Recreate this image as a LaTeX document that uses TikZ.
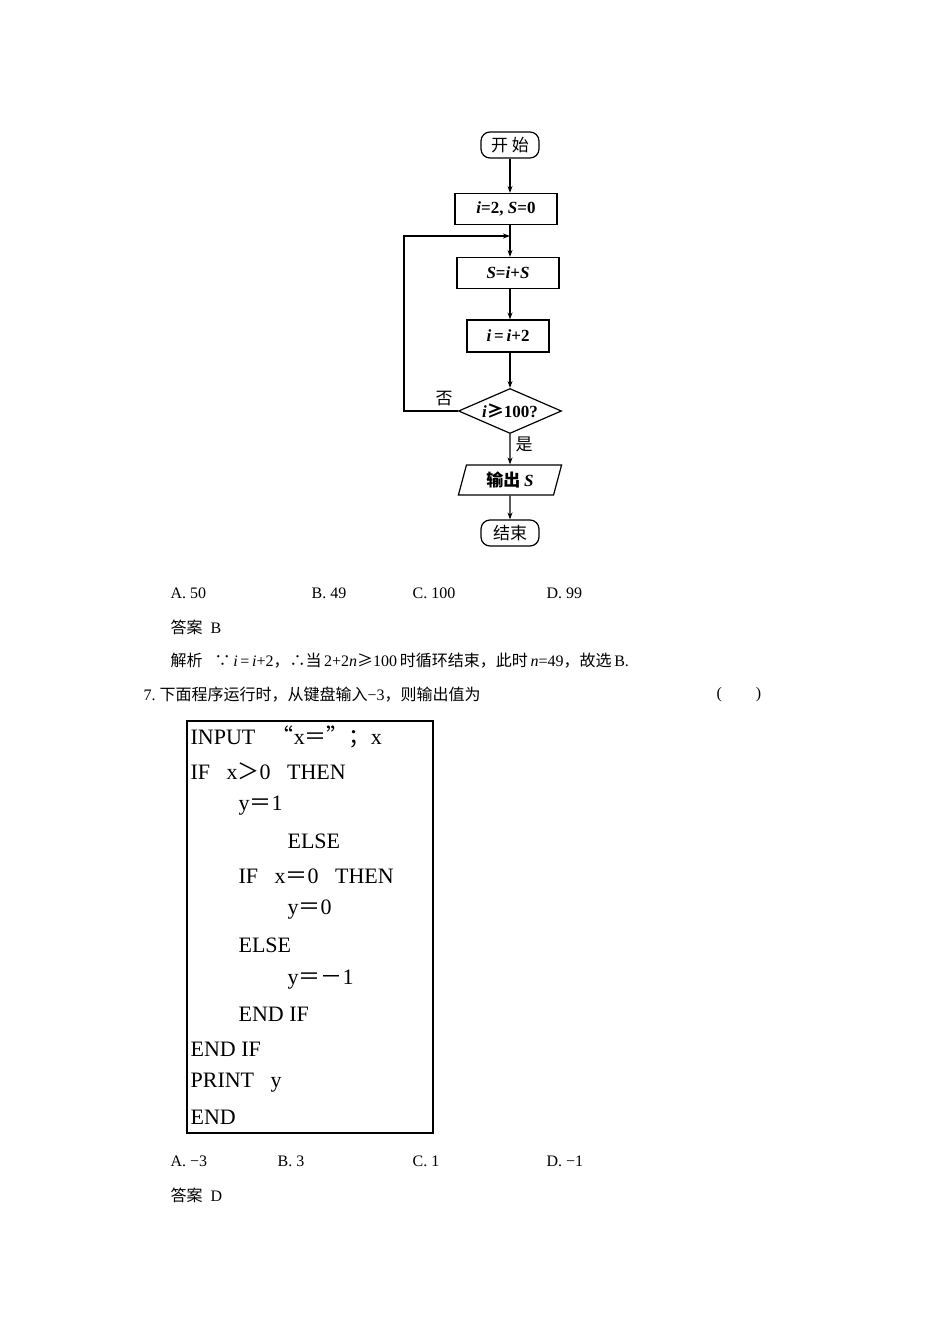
\documentclass[tikz,border=0pt]{standalone}
\usepackage{fontspec}
\setmainfont{Liberation Serif}
\newfontfamily\cjk{Noto Sans CJK SC}
\usetikzlibrary{shapes.geometric,arrows.meta}
\begin{document}
\begin{tikzpicture}[x=1pt,y=-1pt,line width=1.2pt,
  every node/.style={inner sep=0pt,font=\fontsize{16}{18}\selectfont},
  proc/.style={draw,minimum height=31pt,font=\bfseries\fontsize{17}{19}\selectfont},
  term/.style={draw,rounded corners=9pt,minimum width=58pt,minimum height=26pt,font=\cjk\fontsize{17}{19}\selectfont},
  arr/.style={-{Stealth[length=7pt,width=5pt]}},
  txt/.style={anchor=west,font=\fontsize{16}{18}\selectfont},
  code/.style={anchor=west,font=\fontsize{22}{24}\selectfont}]
\useasboundingbox (0,0) rectangle (950,1344);
\node[term] (st) at (510,145) {开 始};
\node[proc,minimum width=102pt] (b1) at (506,209) {\itshape i\upshape=2, \itshape S\upshape=0};
\coordinate (m) at (510,236);
\node[proc,minimum width=102pt] (b2) at (508,273) {\itshape S\upshape=\itshape i\upshape+\itshape S};
\node[proc,minimum width=82pt,minimum height=32pt] (b3) at (508,336) {\itshape i\upshape\,=\,\itshape i\upshape+2};
\node[draw,diamond,aspect=2.3,minimum width=103pt,minimum height=45pt,font=\bfseries\fontsize{17}{19}\selectfont] (d) at (510,411) {\itshape i\upshape{\cjk ≥}100?};
\node[draw,trapezium,trapezium left angle=75,trapezium right angle=105,minimum width=100pt,minimum height=30pt,font=\cjk\bfseries\fontsize{17}{19}\selectfont] (o) at (510,480) {输出 {\rmfamily\bfseries\itshape S}};
\node[term] (en) at (510,533) {结束};
\draw[arr] (st) -- (st|-b1.north);
\draw (b1.south-|m) -- (m);
\draw[arr] (m) -- (m|-b2.north);
\draw[arr] (b2.south-|m) -- (m|-b3.north);
\draw[arr] (b3.south-|m) -- (d.north);
\draw[arr] (d.west) -- (404,411) -- (404,236) -- (m);
\draw[arr] (d.south) -- (o.north);
\draw[arr] (o.south) -- (en.north);
\node[font=\cjk\fontsize{17}{19}\selectfont] (no) at (444,399) {否};
\node[font=\cjk\fontsize{17}{19}\selectfont] (yes) at (524,444) {是};
\node[txt] (a1) at (170,593) {A.\ 50};
\node[txt] (a2) at (311,593) {B.\ 49};
\node[txt] (a3) at (412,593) {C.\ 100};
\node[txt] (a4) at (546,593) {D.\ 99};
\node[txt] (ans) at (170,627) {{\cjk 答案}\ \ B};
\node[txt] (jx) at (170,661) {{\cjk 解析}\ \ \ {\cjk ∵}\,\textit{i}\,=\,\textit{i}+2{\cjk ，∴当}\,2+2\textit{n}{\cjk ≥}100\,{\cjk 时循环结束，此时}\,\textit{n}=49{\cjk ，故选}\,B.};
\node[txt] (q7) at (143,695) {7.\ {\cjk 下面程序运行时，从键盘输入}−3{\cjk ，则输出值为}};
\node[txt] (pr) at (716,695) {(\hspace{34pt})};
\draw (187,721) rectangle (433,1133);
\node[code] at (190,737) {INPUT\ \ \ {\cjk “}x{\cjk ＝”；}x};
\node[code] at (190,771) {IF\ \ \ x{\cjk ＞}0\ \ \ THEN};
\node[code] at (238,806) {y{\cjk ＝}1};
\node[code] at (287,841) {ELSE};
\node[code] at (238,876) {IF\ \ \ x{\cjk ＝}0\ \ \ THEN};
\node[code] at (287,910) {y{\cjk ＝}0};
\node[code] at (238,945) {ELSE};
\node[code] at (287,980) {y{\cjk ＝－}1};
\node[code] at (238,1014) {END IF};
\node[code] at (190,1049) {END IF};
\node[code] at (190,1083) {PRINT\ \ \ y};
\node[code] at (190,1117) {END};
\node[txt] (c1) at (170,1161) {A.\ −3};
\node[txt] (c2) at (277,1161) {B.\ 3};
\node[txt] (c3) at (412,1161) {C.\ 1};
\node[txt] (c4) at (546,1161) {D.\ −1};
\node[txt] (ans2) at (170,1195) {{\cjk 答案}\ \ D};
\end{tikzpicture}
\end{document}
